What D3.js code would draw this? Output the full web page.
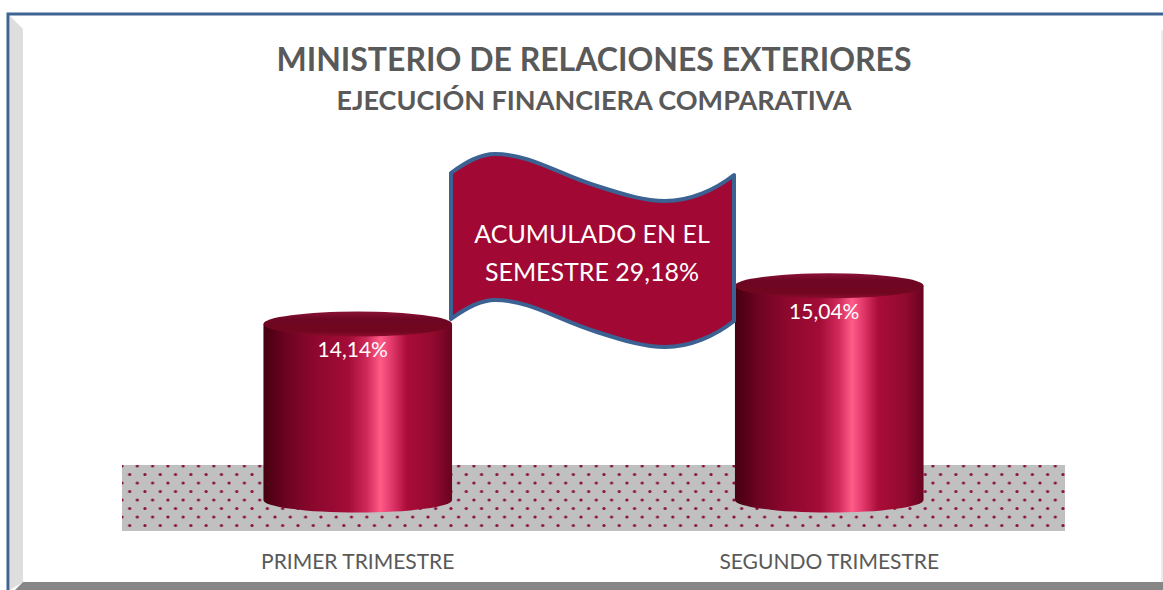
<!DOCTYPE html>
<html>
<head>
<meta charset="utf-8">
<script src="https://cdn.jsdelivr.net/npm/d3@7"></script>
<style>
  html, body { margin: 0; padding: 0; background: #fff; }
  svg { display: block; }
</style>
</head>
<body>
<div id="chart"></div>
<script>
// data
const categories = ["PRIMER TRIMESTRE", "SEGUNDO TRIMESTRE"];
const values = [14.14, 15.04];
const axisDomain = [10, 16];
const bannerLabel = "ACUMULADO EN EL";
const bannerPrefix = "SEMESTRE";

const W = 1163, H = 590;
const fmt = d3.formatLocale({decimal: ",", thousands: ".", grouping: [3], currency: ["", ""]}).format(".2f");

const svg = d3.select("#chart").append("svg")
  .attr("width", W)
  .attr("height", H)
  .style("font-family", "Lato, 'Open Sans', sans-serif");

const defs = svg.append("defs");

// cylinder side gradient
const sideGrad = defs.append("linearGradient").attr("id", "side")
  .attr("x1", "0%").attr("x2", "100%").attr("y1", "0%").attr("y2", "0%");
[[0, "#45000f"], [0.12, "#6c0322"], [0.28, "#8e082d"], [0.45, "#a30c37"],
 [0.55, "#d02a5a"], [0.62, "#ff5c88"], [0.68, "#e0386a"], [0.76, "#aa0c38"],
 [0.9, "#920a2f"], [1, "#680320"]]
  .forEach(s => sideGrad.append("stop").attr("offset", s[0]).attr("stop-color", s[1]));

// cylinder top gradient
const topGrad = defs.append("linearGradient").attr("id", "capgrad")
  .attr("x1", "0%").attr("x2", "0%").attr("y1", "0%").attr("y2", "100%");
[[0, "#8a1236"], [0.3, "#6d0623"], [0.8, "#72061f"], [1, "#8c0c30"]]
  .forEach(s => topGrad.append("stop").attr("offset", s[0]).attr("stop-color", s[1]));

// dotted floor pattern
const pat = defs.append("pattern").attr("id", "dots")
  .attr("patternUnits", "userSpaceOnUse")
  .attr("x", 122).attr("y", 466).attr("width", 15.3).attr("height", 17);
pat.append("rect").attr("width", 15.3).attr("height", 17).attr("fill", "#c0c0c0");
[[0, 0], [15.3, 0], [7.65, 8.5], [0, 17], [15.3, 17]].forEach(p =>
  pat.append("circle").attr("cx", p[0]).attr("cy", p[1]).attr("r", 1.6).attr("fill", "#8a1040"));

// frame
svg.append("rect").attr("x", 0).attr("y", 0).attr("width", W).attr("height", H).attr("fill", "#fff");
svg.append("path")
  .attr("d", "M10,16 L23,29 L23,582 L10,590 Z")
  .attr("fill", "#dedede");
svg.append("path")
  .attr("d", `M23,582 L${W},582 L${W},${H} L15,${H} Z`)
  .attr("fill", "#878787");
svg.append("line").attr("x1", 1162).attr("x2", 1162).attr("y1", 30).attr("y2", 582)
  .attr("stroke", "#d9d9d9").attr("stroke-width", 1);
svg.append("path")
  .attr("d", `M8,${H} L8,14 L${W},14`)
  .attr("fill", "none").attr("stroke", "#3f6494").attr("stroke-width", 3);

// titles
svg.append("text").attr("x", 594).attr("y", 71)
  .attr("text-anchor", "middle").attr("font-size", 32).attr("font-weight", "bold")
  .attr("fill", "#595959").text("MINISTERIO DE RELACIONES EXTERIORES");
svg.append("text").attr("x", 594).attr("y", 110)
  .attr("text-anchor", "middle").attr("font-size", 27).attr("font-weight", "bold")
  .attr("fill", "#595959").text("EJECUCIÓN FINANCIERA COMPARATIVA");

// scales
const x = d3.scaleBand()
  .domain(categories)
  .range([122, 1065])
  .paddingInner(0.6)
  .paddingOuter(0.3);
const y = d3.scaleLinear()
  .domain(axisDomain)
  .range([500, 500 - 6 * 42.5]);

// floor
svg.append("rect")
  .attr("x", 122).attr("y", 465).attr("width", 1065 - 122).attr("height", 66)
  .attr("fill", "url(#dots)");

// category labels
svg.append("g").selectAll("text")
  .data(categories)
  .join("text")
    .attr("x", d => x(d) + x.bandwidth() / 2)
    .attr("y", 569)
    .attr("text-anchor", "middle")
    .attr("font-size", 21)
    .attr("fill", "#595959")
    .text(d => d);

// cylinders
const rx = x.bandwidth() / 2, ry = 12.5;
const data = categories.map((c, i) => ({cat: c, value: values[i]}));
const cyl = svg.append("g").selectAll("g")
  .data(data)
  .join("g");

cyl.append("path")
  .attr("d", d => {
    const x0 = x(d.cat), x1 = x0 + x.bandwidth(), yt = y(d.value), yb = y(axisDomain[0]);
    return `M${x0},${yt} L${x0},${yb} A${rx},${ry} 0 0 0 ${x1},${yb} L${x1},${yt} Z`;
  })
  .attr("fill", "url(#side)");

cyl.append("ellipse")
  .attr("cx", d => x(d.cat) + rx)
  .attr("cy", d => y(d.value))
  .attr("rx", rx)
  .attr("ry", ry)
  .attr("fill", "url(#capgrad)");

cyl.append("text")
  .attr("x", d => x(d.cat) + rx - 5)
  .attr("y", d => y(d.value) + 33)
  .attr("text-anchor", "middle")
  .attr("font-size", 21)
  .attr("fill", "#fff")
  .text(d => fmt(d.value) + "%");

// wave banner
const off = 146;
const wave = (dy) => `M451,${173 + dy} C466,${162 + dy} 480,${154 + dy} 495,${154 + dy} ` +
  `C530,${154 + dy} 560,${175 + dy} 597,${186 + dy} ` +
  `C625,${195 + dy} 645,${201 + dy} 665,${201 + dy} ` +
  `C690,${201 + dy} 715,${190 + dy} 734,${175 + dy}`;
const waveBack = (dy) => `L734,${175 + dy} ` +
  `C715,${190 + dy} 690,${201 + dy} 665,${201 + dy} ` +
  `C645,${201 + dy} 625,${195 + dy} 597,${186 + dy} ` +
  `C560,${175 + dy} 530,${154 + dy} 495,${154 + dy} ` +
  `C480,${154 + dy} 466,${162 + dy} 451,${173 + dy} Z`;
svg.append("path")
  .attr("d", wave(0) + " " + waveBack(off))
  .attr("fill", "#a10833")
  .attr("stroke", "#3b6292")
  .attr("stroke-width", 4)
  .attr("stroke-linejoin", "round");

const bt = svg.append("text")
  .attr("text-anchor", "middle")
  .attr("font-size", 25)
  .attr("fill", "#fff");
bt.append("tspan").attr("x", 592).attr("y", 243).text(bannerLabel);
bt.append("tspan").attr("x", 592).attr("y", 281)
  .text(bannerPrefix + " " + fmt(d3.sum(values)) + "%");
</script>
</body>
</html>
